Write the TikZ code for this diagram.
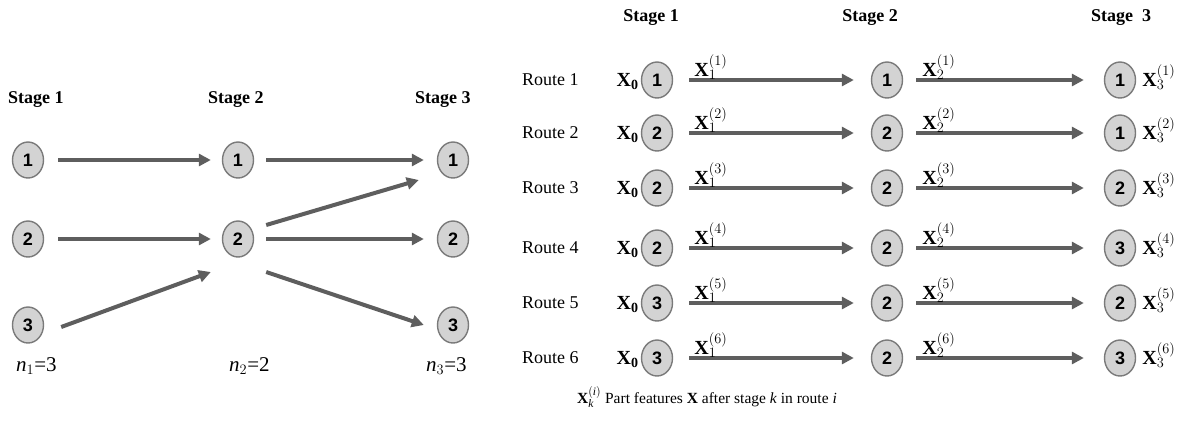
\documentclass[tikz,border=0pt]{standalone}
\usepackage{fontspec}
\setmainfont{Liberation Serif}
\newfontfamily\numfont{Liberation Sans}
\usetikzlibrary{shapes.geometric,arrows.meta}
\DeclareMathSizes{18}{18}{13}{10}
\DeclareMathSizes{20}{20}{14}{10}
\DeclareMathSizes{21}{21}{15}{10}
\DeclareMathSizes{15.5}{15.5}{11.5}{9}
\definecolor{nodegray}{HTML}{D3D3D3}
\definecolor{edgegray}{HTML}{7A7A7A}
\definecolor{arrgray}{HTML}{5E5E5E}
\begin{document}
\begin{tikzpicture}[x=1pt,y=-1pt,
  st/.style={ellipse,minimum width=31pt,minimum height=36pt,inner sep=0pt,fill=nodegray,draw=edgegray,line width=1.4pt,font=\numfont\bfseries\fontsize{18}{18}\selectfont},
  arr/.style={draw=arrgray,line width=4pt,-{Triangle[length=12pt,width=12pt]}},
  hdr/.style={font=\bfseries\fontsize{18}{20}\selectfont,inner sep=0pt},
  lbl/.style={font=\fontsize{18}{20}\selectfont,inner sep=0pt},
  nl/.style={font=\fontsize{21}{23}\selectfont,inner sep=0pt},
  xl/.style={font=\fontsize{20}{22}\selectfont,inner sep=0pt}]
\useasboundingbox (0,0) rectangle (1177,424);

% ---------- left panel ----------
\node[hdr,anchor=west] (h1) at (8,100) {Stage 1};
\node[hdr,anchor=west] (h2) at (208,100) {Stage 2};
\node[hdr,anchor=west] (h3) at (415,100) {Stage 3};

\node[st] (a1) at (28,160) {1};
\node[st] (a2) at (28,239) {2};
\node[st] (a3) at (28,325) {3};
\node[st] (b1) at (238,160) {1};
\node[st] (b2) at (238,239) {2};
\node[st] (c1) at (453,160) {1};
\node[st] (c2) at (453,239) {2};
\node[st] (c3) at (453,325) {3};

\draw[arr] ([xshift=14pt]a1.east) -- ([xshift=-11pt]b1.west);
\draw[arr] ([xshift=14pt]a2.east) -- ([xshift=-11pt]b2.west);
\draw[arr] ([shift={(17,2)}]a3.east) -- ([shift={(-11,33)}]b2.west);
\draw[arr] ([xshift=12pt]b1.east) -- ([xshift=-13pt]c1.west);
\draw[arr] ([shift={(12,-14)}]b2.east) -- ([shift={(-18,20)}]c1.west);
\draw[arr] ([xshift=12pt]b2.east) -- ([xshift=-13pt]c2.west);
\draw[arr] ([shift={(12,33)}]b2.east) -- ([xshift=-13pt]c3.west);

\node[nl,anchor=base west] (n1) at (16,371) {\textit{n}$_1$=3};
\node[nl,anchor=base west] (n2) at (229,371) {\textit{n}$_2$=2};
\node[nl,anchor=base west] (n3) at (426,371) {\textit{n}$_3$=3};

% ---------- right panel ----------
\node[hdr] (s1) at (651,18) {Stage 1};
\node[hdr] (s2) at (870,18) {Stage 2};
\node[hdr] (s3) at (1121,18) {Stage\ \ 3};

\foreach \i/\y/\p/\q/\r in {1/80/1/1/1, 2/133/2/2/1, 3/188/2/2/2, 4/248/2/2/3, 5/303/3/2/2, 6/358/3/2/3} {
  \node[lbl,anchor=west] (route\i) at (522,\y) {Route \i};
  \node[st] (p\i) at (657,\y) {\p};
  \node[st] (q\i) at (887,\y) {\q};
  \node[st] (t\i) at (1120,\y) {\r};
  \node[xl,anchor=base east] (xz\i) at ([shift={(-2,6)}]p\i.west) {$\mathbf{X}_{\mathbf{0}}$};
  \draw[arr] ([xshift=16pt]p\i.east) -- ([xshift=-17pt]q\i.west);
  \draw[arr] ([xshift=13pt]q\i.east) -- ([xshift=-20pt]t\i.west);
  \node[xl,anchor=base west] (xa\i) at ([shift={(21,-4)}]p\i.east) {$\mathbf{X}_1^{(\i)}$};
  \node[xl,anchor=base west] (xb\i) at ([shift={(19,-4)}]q\i.east) {$\mathbf{X}_2^{(\i)}$};
  \node[xl,anchor=base west] (xc\i) at ([shift={(6,6)}]t\i.east) {$\mathbf{X}_3^{(\i)}$};
}

\node[anchor=base west,inner sep=0pt,font=\fontsize{15.5}{18}\selectfont] (cap) at (577,403) {$\mathbf{X}_{\mathit{k}}^{(\mathit{i})}$ Part features \textbf{X} after stage \textit{k} in route \textit{i}};
\end{tikzpicture}
\end{document}
